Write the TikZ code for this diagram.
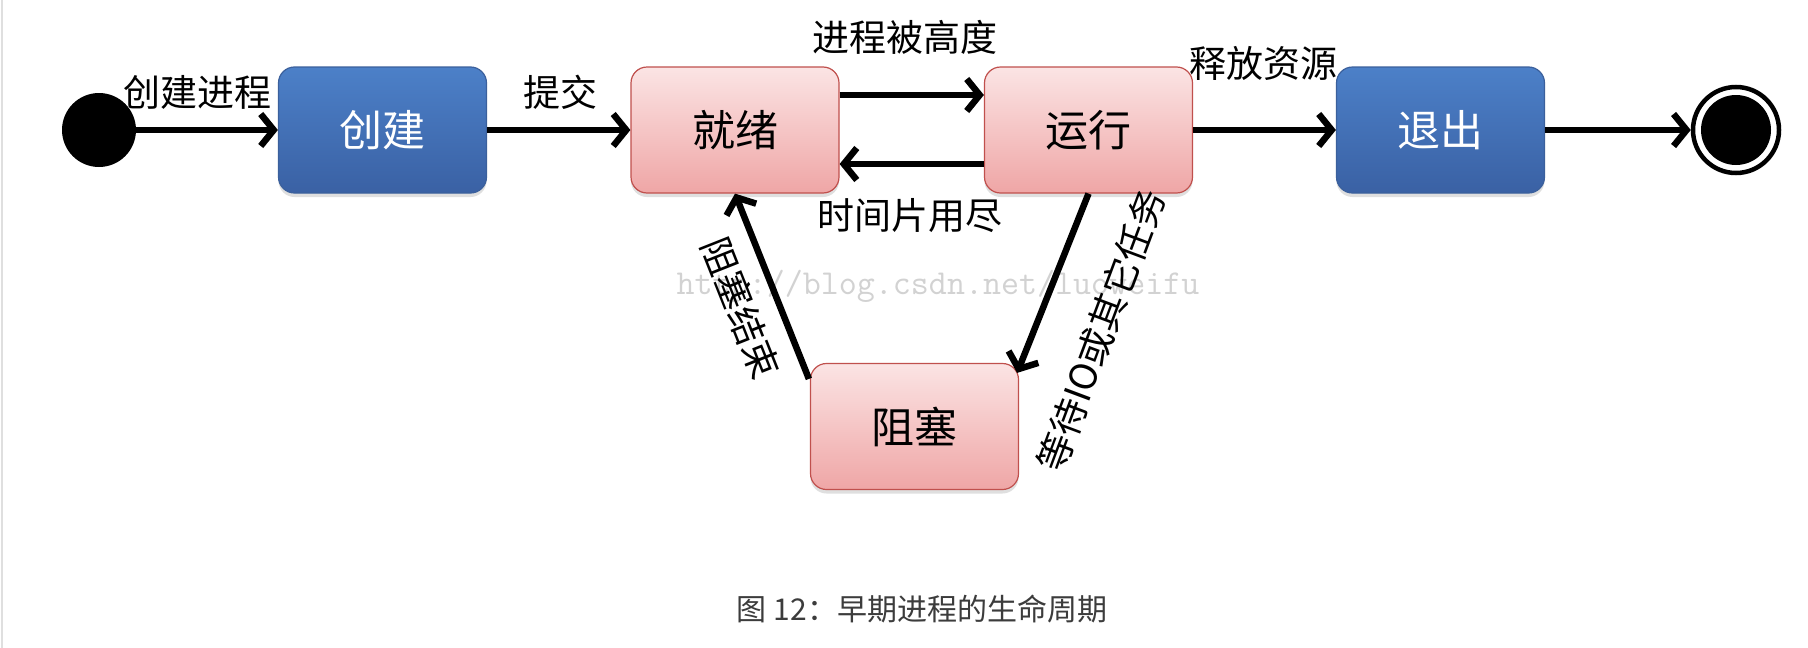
\documentclass[tikz,border=0pt]{standalone}
\usepackage{fontspec}
\setmainfont{Noto Sans CJK SC}
\usetikzlibrary{arrows.meta,shadows,calc}
\definecolor{bluetop}{HTML}{4C80C8}
\definecolor{bluebot}{HTML}{3A61A4}
\definecolor{blueedge}{HTML}{3B609C}
\definecolor{pinktop}{HTML}{FBE4E4}
\definecolor{pinkbot}{HTML}{EFA6A6}
\definecolor{pinkedge}{HTML}{C0504D}
\definecolor{captext}{HTML}{3C3C3C}
\tikzset{
  boxbase/.style={rectangle, rounded corners=16pt, minimum width=208pt, minimum height=126pt,
    line width=1.2pt, font=\fontsize{43}{45}\selectfont,
    drop shadow={shadow xshift=0pt, shadow yshift=-4pt, opacity=0.25}},
  bluebox/.style={boxbase, draw=blueedge, top color=bluetop, bottom color=bluebot, text=white},
  pinkbox/.style={boxbase, draw=pinkedge, top color=pinktop, bottom color=pinkbot, text=black},
  lbl/.style={font=\fontsize{37}{39}\selectfont, inner sep=0pt},
  conn/.style={line width=6.5pt, -{Straight Barb[length=13pt,width=32pt]}},
}
\begin{document}
\begin{tikzpicture}[x=1pt,y=-1pt]
\useasboundingbox (0,0) rectangle (1808,648);
\fill[white] (0,0) rectangle (1808,648);
\draw[gray!25, line width=2pt] (1.5,0) -- (1.5,648);

% watermark
\node[text=gray!35, font=\ttfamily\fontsize{35}{37}\selectfont, inner sep=0pt] (wm) at (938,286) {http://blog.csdn.net/luoweifu};

% nodes
\node[circle, fill=black, minimum size=74pt, inner sep=0pt] (start) at (99,130) {};
\node[bluebox] (create) at (382.5,130) {创建};
\node[pinkbox] (ready) at (735,130) {就绪};
\node[pinkbox] (run) at (1088.5,130) {运行};
\node[bluebox] (quit) at (1440.5,130) {退出};
\node[pinkbox] (block) at (914.5,426.5) {阻塞};
\node[circle, draw=black, line width=4.5pt, minimum size=86pt, inner sep=0pt] (endo) at (1736,130) {};
\node[circle, fill=black, minimum size=70pt, inner sep=0pt] (endi) at (1736,130) {};

\coordinate (bnw) at ($(block.north west)+(-1,16)$);
\coordinate (bne) at ($(block.north east)+(-2,10)$);

% connectors
\draw[conn] (start.east) -- (create.west);
\draw[conn] (create.east) -- (ready.west);
\draw[conn] ([yshift=35pt]ready.east) -- ([yshift=35pt]run.west);
\draw[conn] ([yshift=-34pt]run.west) -- ([yshift=-34pt]ready.east);
\draw[conn] (run.east) -- (quit.west);
\draw[conn] (quit.east) -- (endo.west);
\draw[conn] (run.south) -- (bne);
\draw[conn] (bnw) -- (ready.south);

% labels
\node[lbl] (l1) at (197,92) {创建进程};
\node[lbl] (l2) at (560,92) {提交};
\node[lbl] (l3) at (905,37) {进程被高度};
\node[lbl] (l4) at (1263,63) {释放资源};
\node[lbl] (l5) at (910,216) {时间片用尽};
\node[lbl, rotate=-68.4] (l6) at (741,308) {阻塞结束};
\node[lbl, rotate=69.5] (l7) at (1101,330) {等待IO或其它任务};

% caption
\node[text=captext, font=\fontsize{30}{32}\selectfont, inner sep=0pt] (cap) at (922,609) {图 12：早期进程的生命周期};
\end{tikzpicture}
\end{document}
